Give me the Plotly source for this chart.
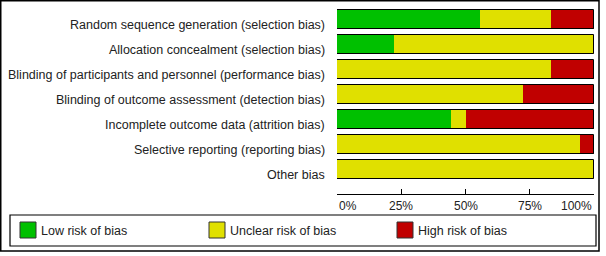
import plotly.graph_objects as go

categories = [
    "Random sequence generation (selection bias)",
    "Allocation concealment (selection bias)",
    "Blinding of participants and personnel (performance bias)",
    "Blinding of outcome assessment (detection bias)",
    "Incomplete outcome data (attrition bias)",
    "Selective reporting (reporting bias)",
    "Other bias",
]
low_risk = [55.6, 22.2, 0.0, 0.0, 44.4, 0.0, 0.0]
unclear_risk = [27.8, 77.8, 83.3, 72.2, 5.6, 94.4, 100.0]
high_risk = [16.7, 0.0, 16.7, 27.8, 50.0, 5.6, 0.0]
series_names = ["Low risk of bias", "Unclear risk of bias", "High risk of bias"]
tick_values = [0, 25, 50, 75, 100]
tick_labels = ["0%", "25%", "50%", "75%", "100%"]

colors = ["rgb(0,192,0)", "rgb(224,224,0)", "rgb(192,0,0)"]
FONT = "Liberation Sans, Arial, sans-serif"
TXT = "#222222"

W, H = 606, 256
L, R, T, B = 337, 12, 7, 62
PW, PH = W - L - R, H - T - B


def px_x(p):
    return (p - L) / PW


def px_y(p):
    return (T + PH - p) / PH


fig = go.Figure()
series = [low_risk, unclear_risk, high_risk]
base = [0.0] * len(categories)
for name, vals, col in zip(series_names, series, colors):
    fig.add_trace(go.Bar(
        y=categories, x=vals, base=list(base), orientation="h", name=name,
        marker=dict(color=col, line=dict(width=0)), width=0.76,
        showlegend=False, hoverinfo="skip",
    ))
    base = [b + v for b, v in zip(base, vals)]

# outline of full bars
fig.add_trace(go.Bar(
    y=categories, x=[100] * len(categories), base=[0] * len(categories),
    orientation="h", marker=dict(color="rgba(0,0,0,0)", line=dict(color="black", width=1)),
    width=0.76, showlegend=False, hoverinfo="skip",
))

annotations = []
for c in categories:
    annotations.append(dict(
        x=0, y=c, xref="x", yref="y", text=c, showarrow=False,
        xanchor="right", yanchor="middle", xshift=-10, yshift=-5,
        font=dict(family=FONT, size=12.5, color=TXT),
    ))
for v, t in zip(tick_values, tick_labels):
    anchor = "left" if v == tick_values[0] else ("right" if v == tick_values[-1] else "center")
    annotations.append(dict(
        x=v, y=px_y(206), xref="x", yref="paper", text=t, showarrow=False,
        xanchor=anchor, yanchor="middle",
        font=dict(family=FONT, size=12, color=TXT),
    ))

shapes = [
    # outer frame
    dict(type="rect", xref="paper", yref="paper", x0=px_x(0.75), x1=px_x(599), y0=px_y(0.75), y1=px_y(251),
         line=dict(color="black", width=1.5), fillcolor="rgba(0,0,0,0)"),
    # legend box
    dict(type="rect", xref="paper", yref="paper", x0=px_x(10), x1=px_x(596), y0=px_y(215), y1=px_y(246),
         line=dict(color="black", width=1.2), fillcolor="rgba(0,0,0,0)"),
]
legend_sq_x = [20, 209, 397]
for name, col, sx in zip(series_names, colors, legend_sq_x):
    shapes.append(dict(type="rect", xref="paper", yref="paper",
                       x0=px_x(sx), x1=px_x(sx + 16), y0=px_y(222), y1=px_y(238),
                       line=dict(color="#333333", width=1), fillcolor=col))
    annotations.append(dict(
        x=px_x(sx + 19), y=px_y(230.5), xref="paper", yref="paper", text=name, showarrow=False,
        xanchor="left", yanchor="middle", font=dict(family=FONT, size=12.5, color=TXT),
    ))

fig.update_layout(
    width=W, height=H, margin=dict(l=L, r=R, t=T, b=B, pad=0),
    paper_bgcolor="white", plot_bgcolor="white",
    barmode="overlay", bargap=0,
    annotations=annotations, shapes=shapes, showlegend=False,
    xaxis=dict(range=[0, 100], tickvals=tick_values, showticklabels=False,
               ticks="inside", ticklen=5, tickcolor="black", tickwidth=1,
               showline=True, linecolor="black", linewidth=1,
               showgrid=False, zeroline=False, fixedrange=True),
    yaxis=dict(type="category", categoryorder="array", categoryarray=categories,
               range=[6.98, -0.5], showticklabels=False, showgrid=False,
               zeroline=False, showline=False, ticks="", fixedrange=True),
)

fig.write_html(
    "out.html",
    config={"displayModeBar": False},
    post_script="document.body.style.margin='0';document.body.style.overflow='hidden';",
)
